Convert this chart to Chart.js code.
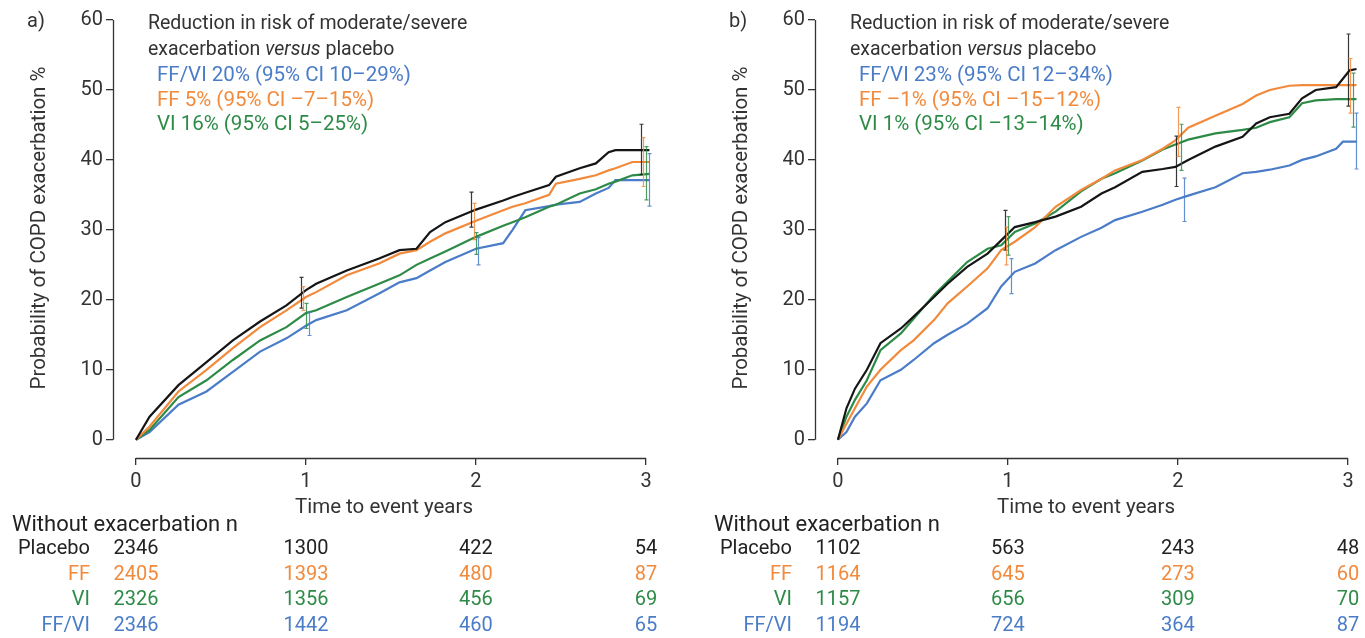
<!DOCTYPE html>
<html>
<head>
<meta charset="utf-8">
<script src="https://cdn.jsdelivr.net/npm/chart.js@4.4.1/dist/chart.umd.min.js"></script>
<style>
  html, body { margin: 0; padding: 0; background: #fff; }
  body { width: 1365px; height: 638px; position: relative; overflow: hidden; }
  canvas { position: absolute; top: 0; }
  #chartA { left: 0; }
  #chartB { left: 702px; }
</style>
</head>
<body>
<canvas id="chartA" width="663" height="638"></canvas>
<canvas id="chartB" width="663" height="638"></canvas>
<script>
const groups = ["Placebo", "FF", "VI", "FF/VI"];
const colors = ["#151515", "#f28a3c", "#2e8b47", "#4a7cc8"];
const xTicks = [0, 1, 2, 3];
const yTicks = [0, 10, 20, 30, 40, 50, 60];

// panel a - cumulative probability (%)
const timesA   = [0, 0.08, 0.25, 0.415, 0.57, 0.73, 0.885, 1.0, 1.06, 1.24, 1.43, 1.55, 1.65, 1.73, 1.82, 2.0, 2.16, 2.215, 2.29, 2.43, 2.47, 2.61, 2.705, 2.78, 2.82, 2.92, 3.02];
const placeboA = [0, 3.3, 7.8, 11.1, 14.2, 16.9, 19.2, 21.4, 22.3, 24.2, 25.9, 27.1, 27.3, 29.7, 31.1, 32.9, 34.2, 34.7, 35.3, 36.4, 37.6, 38.8, 39.5, 41.1, 41.4, 41.4, 41.4];
const ffA      = [0, 1.9, 6.9, 10.0, 13.1, 16.1, 18.5, 20.4, 21.1, 23.5, 25.2, 26.6, 27.1, 28.3, 29.5, 31.3, 32.8, 33.3, 33.8, 35.0, 36.6, 37.3, 37.8, 38.5, 38.8, 39.7, 39.7];
const viA      = [0, 1.4, 6.1, 8.5, 11.4, 14.2, 16.1, 18.1, 18.5, 20.4, 22.3, 23.5, 25.0, 25.9, 26.9, 29.0, 30.6, 31.1, 31.8, 33.3, 33.6, 35.2, 35.8, 36.6, 36.9, 37.8, 38.0];
const ffviA    = [0, 1.1, 5.0, 6.9, 9.7, 12.6, 14.5, 16.3, 17.1, 18.5, 20.9, 22.5, 23.1, 24.2, 25.4, 27.3, 28.1, 30.0, 32.8, 33.4, 33.6, 34.0, 35.2, 36.0, 37.1, 37.1, 37.1];

// panel a - 95% CI bars [time, low, high]
const errPlaceboA = [[0.97, 18.8, 23.2], [1.97, 30.4, 35.4], [2.97, 37.9, 45.1]];
const errFfA      = [[0.985, 18.5, 21.9], [1.99, 28.6, 33.8], [2.98, 36.2, 43.2]];
const errViA      = [[1.0, 15.9, 19.5], [2.0, 26.5, 29.6], [3.0, 34.3, 41.9]];
const errFfviA    = [[1.015, 14.9, 18.2], [2.01, 25.0, 28.9], [3.015, 33.4, 40.9]];

// panel a - without exacerbation n
const nPlaceboA = [2346, 1300, 422, 54];
const nFfA      = [2405, 1393, 480, 87];
const nViA      = [2326, 1356, 456, 69];
const nFfviA    = [2346, 1442, 460, 65];

// panel b
const timesB   = [0, 0.05, 0.1, 0.17, 0.25, 0.37, 0.445, 0.565, 0.645, 0.76, 0.88, 0.96, 1.04, 1.16, 1.28, 1.43, 1.55, 1.63, 1.79, 1.91, 1.985, 2.06, 2.22, 2.38, 2.46, 2.54, 2.655, 2.73, 2.81, 2.93, 2.97, 3.01, 3.05];
const placeboB = [0, 4.5, 7.3, 10.0, 13.8, 15.9, 17.6, 20.4, 22.3, 24.7, 26.6, 28.5, 30.4, 31.1, 31.9, 33.3, 35.2, 36.1, 38.3, 38.7, 39.0, 40.0, 41.9, 43.3, 45.2, 46.1, 46.6, 48.8, 50.0, 50.4, 51.6, 52.8, 53.0];
const ffB      = [0, 2.3, 4.5, 7.6, 10.0, 12.8, 14.2, 17.1, 19.5, 21.9, 24.5, 27.1, 28.3, 30.4, 33.3, 35.7, 37.3, 38.5, 40.0, 41.6, 42.8, 44.6, 46.3, 48.0, 49.2, 50.0, 50.6, 50.7, 50.7, 50.7, 50.7, 50.7, 50.7];
const viB      = [0, 3.3, 5.7, 8.5, 12.8, 15.2, 17.3, 20.7, 22.6, 25.4, 27.3, 27.8, 29.7, 30.9, 32.6, 35.5, 37.3, 38.1, 39.9, 41.5, 42.2, 42.9, 43.8, 44.3, 44.6, 45.4, 46.1, 48.1, 48.5, 48.7, 48.7, 48.7, 48.7];
const ffviB    = [0, 1.1, 3.3, 5.2, 8.5, 10.0, 11.4, 13.8, 15.0, 16.6, 18.8, 21.9, 24.0, 25.2, 27.1, 29.0, 30.3, 31.4, 32.6, 33.6, 34.3, 34.9, 36.1, 38.1, 38.3, 38.6, 39.2, 40.0, 40.5, 41.6, 42.6, 42.6, 42.6];

const errPlaceboB = [[0.98, 27.1, 32.8], [1.99, 36.2, 43.4], [3.0, 47.7, 58.0]];
const errFfB      = [[0.99, 25.0, 30.4], [2.0, 40.5, 47.5], [3.01, 46.7, 54.5]];
const errViB      = [[1.0, 26.4, 31.9], [2.02, 38.5, 45.1], [3.03, 44.7, 52.4]];
const errFfviB    = [[1.02, 20.9, 25.9], [2.035, 31.2, 37.4], [3.05, 38.7, 46.7]];

const nPlaceboB = [1102, 563, 243, 48];
const nFfB      = [1164, 645, 273, 60];
const nViB      = [1157, 656, 309, 70];
const nFfviB    = [1194, 724, 364, 87];

const legendA = ["FF/VI 20% (95% CI 10\u201329%)", "FF 5% (95% CI \u20137\u201315%)", "VI 16% (95% CI 5\u201325%)"];
const legendB = ["FF/VI 23% (95% CI 12\u201334%)", "FF \u20131% (95% CI \u201315\u201312%)", "VI 1% (95% CI \u201313\u201314%)"];
const legendColors = [colors[3], colors[1], colors[2]];

const FONT = "Roboto, 'Noto Sans', sans-serif";
const TEXT = "#333";

const extras = {
  id: "extras",
  afterDatasetsDraw(chart, args, opts) {
    const { ctx, scales: { x, y } } = chart;
    ctx.save();
    ctx.lineWidth = 1.2;
    ctx.globalAlpha = 0.85;
    opts.errors.forEach((bars, i) => {
      ctx.strokeStyle = colors[i];
      bars.forEach(([t, lo, hi]) => {
        const px = Math.round(x.getPixelForValue(t)) + 0.5;
        const p1 = y.getPixelForValue(lo), p2 = y.getPixelForValue(hi);
        ctx.beginPath();
        ctx.moveTo(px, p1); ctx.lineTo(px, p2);
        ctx.moveTo(px - 2, p1); ctx.lineTo(px + 2, p1);
        ctx.moveTo(px - 2, p2); ctx.lineTo(px + 2, p2);
        ctx.stroke();
      });
    });
    ctx.restore();
  },
  afterDraw(chart, args, opts) {
    const { ctx, chartArea, scales: { x, y } } = chart;
    ctx.save();
    // detached axis lines
    ctx.strokeStyle = TEXT;
    ctx.lineWidth = 1.3;
    ctx.beginPath();
    const ax = chartArea.left + 0.5;
    ctx.moveTo(ax, y.getPixelForValue(0));
    ctx.lineTo(ax, y.getPixelForValue(60));
    const ay = chartArea.bottom + 0.5;
    ctx.moveTo(x.getPixelForValue(0), ay);
    ctx.lineTo(x.getPixelForValue(3), ay);
    ctx.stroke();

    ctx.textBaseline = "middle";
    ctx.font = "20px " + FONT;
    ctx.fillStyle = TEXT;
    ctx.textAlign = "left";
    ctx.fillText(opts.letter, 27, 22);

    // reduction in risk text
    ctx.font = "19.5px " + FONT;
    ctx.fillText("Reduction in risk of moderate/severe", 148, 24);
    let tx = 148;
    ctx.fillText("exacerbation ", tx, 50);
    tx += ctx.measureText("exacerbation ").width;
    ctx.font = "italic 19.5px " + FONT;
    ctx.fillText("versus", tx, 50);
    tx += ctx.measureText("versus").width;
    ctx.font = "19.5px " + FONT;
    ctx.fillText(" placebo", tx, 50);
    ctx.font = "20.5px " + FONT;
    opts.legend.forEach((s, i) => {
      ctx.fillStyle = legendColors[i];
      ctx.fillText(s, 157, 76 + i * 24.5);
    });

    // axis titles
    ctx.font = "20.5px " + FONT;
    ctx.fillStyle = TEXT;
    ctx.textAlign = "center";
    ctx.fillText("Time to event years", 384, 508);
    ctx.save();
    ctx.translate(40, 228);
    ctx.rotate(-Math.PI / 2);
    ctx.fillText("Probability of COPD exacerbation %", 0, 0);
    ctx.restore();

    // at-risk table
    ctx.textAlign = "left";
    ctx.fillStyle = "#222";
    ctx.font = "22px " + FONT;
    ctx.fillText("Without exacerbation n", 12, 525);
    ctx.font = "20px " + FONT;
    const rowY = [549, 574.5, 600, 625.5];
    opts.atRisk.forEach((row, i) => {
      ctx.fillStyle = i === 0 ? "#222" : colors[i];
      ctx.textAlign = "right";
      ctx.fillText(groups[i], 90, rowY[i]);
      ctx.textAlign = "center";
      row.forEach((n, j) => {
        ctx.fillText(String(n), x.getPixelForValue(xTicks[j]), rowY[i]);
      });
    });
    ctx.restore();
  }
};

function makeChart(id, times, series, errors, atRisk, legend, letter) {
  return new Chart(document.getElementById(id), {
    type: "line",
    data: {
      datasets: series.map((s, i) => ({
        label: groups[i],
        data: times.map((t, k) => ({ x: t, y: s[k] })),
        borderColor: colors[i],
        borderWidth: 2.2,
        pointRadius: 0,
        fill: false,
        tension: 0
      }))
    },
    options: {
      responsive: false,
      animation: false,
      devicePixelRatio: 1,
      layout: { padding: { top: 20, left: 0, right: 0, bottom: 0 } },
      plugins: {
        legend: { display: false },
        tooltip: { enabled: false },
        extras: { errors, atRisk, legend, letter }
      },
      scales: {
        x: {
          type: "linear",
          min: -0.135,
          max: 3.1,
          afterBuildTicks: s => { s.ticks = xTicks.map(v => ({ value: v })); },
          afterFit: s => { s.height = 180; },
          grid: { drawOnChartArea: false, drawTicks: true, tickLength: 7, color: TEXT, lineWidth: 1.3 },
          border: { display: false },
          ticks: { font: { family: FONT, size: 20 }, color: TEXT, padding: 5, maxRotation: 0, autoSkip: false }
        },
        y: {
          type: "linear",
          min: -2.61,
          max: 60,
          afterBuildTicks: s => { s.ticks = yTicks.map(v => ({ value: v })); },
          afterFit: s => { s.width = 113; },
          grid: { drawOnChartArea: false, drawTicks: true, tickLength: 7, color: TEXT, lineWidth: 1.3 },
          border: { display: false },
          ticks: { font: { family: FONT, size: 20 }, color: TEXT, padding: 3 }
        }
      }
    },
    plugins: [extras]
  });
}

makeChart("chartA", timesA, [placeboA, ffA, viA, ffviA],
  [errPlaceboA, errFfA, errViA, errFfviA],
  [nPlaceboA, nFfA, nViA, nFfviA], legendA, "a)");
makeChart("chartB", timesB, [placeboB, ffB, viB, ffviB],
  [errPlaceboB, errFfB, errViB, errFfviB],
  [nPlaceboB, nFfB, nViB, nFfviB], legendB, "b)");
</script>
</body>
</html>
